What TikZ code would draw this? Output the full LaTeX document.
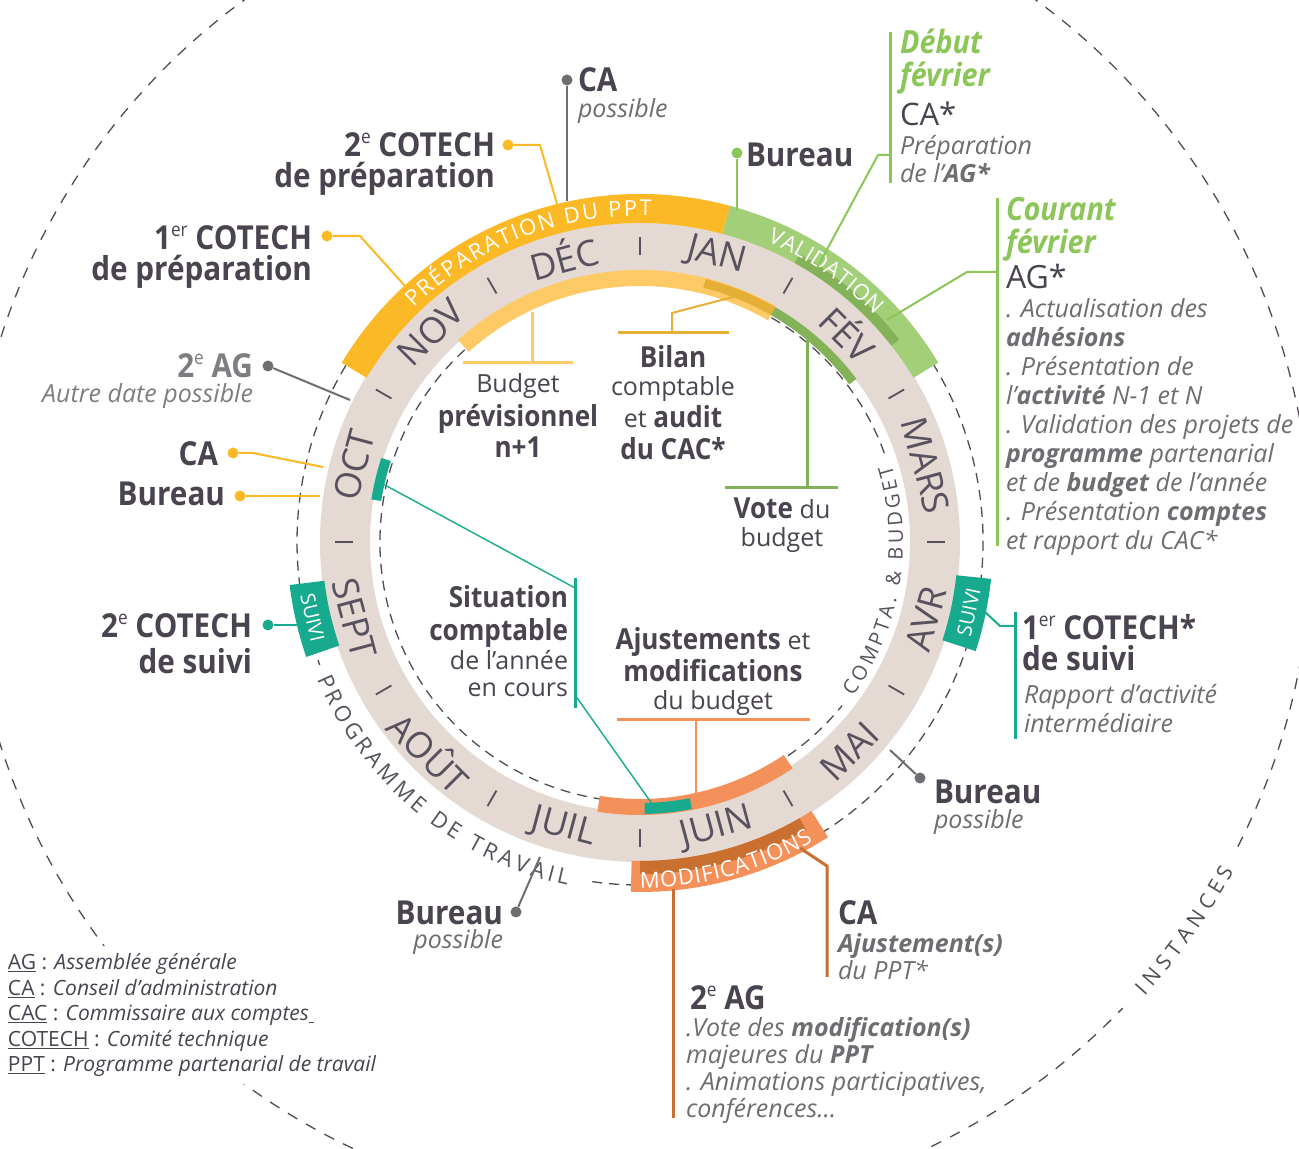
\documentclass[tikz,border=0pt]{standalone}
\usepackage{fontspec}
\usepackage{graphicx}
\setmainfont{Open Sans}
\newfontfamily\bff{Open Sans}[FakeStretch=0.9]
\usetikzlibrary{decorations.text}
\definecolor{txt}{RGB}{74,67,80}
\definecolor{mtxt}{RGB}{88,81,94}
\definecolor{gry}{RGB}{109,110,113}
\definecolor{lgry}{RGB}{125,126,130}
\definecolor{ringc}{RGB}{229,218,211}
\definecolor{yel}{RGB}{251,185,37}
\definecolor{yell}{RGB}{253,202,102}
\definecolor{gold}{RGB}{228,175,52}
\definecolor{grn}{RGB}{163,207,120}
\definecolor{grnd}{RGB}{132,178,88}
\definecolor{grnt}{RGB}{141,198,88}
\definecolor{ora}{RGB}{244,145,90}
\definecolor{orad}{RGB}{201,112,48}
\definecolor{tl}{RGB}{23,170,143}
\definecolor{dsh}{RGB}{80,75,85}
\newcommand\BL[2]{\vtop{\baselineskip=#1\lineskiplimit=-\maxdimen\lineskip=0pt\halign{##\hfil\cr#2\crcr}}}
\newcommand\BR[2]{\vtop{\baselineskip=#1\lineskiplimit=-\maxdimen\lineskip=0pt\halign{\hfil##\cr#2\crcr}}}
\newcommand\BC[2]{\vtop{\baselineskip=#1\lineskiplimit=-\maxdimen\lineskip=0pt\halign{\hfil##\hfil\cr#2\crcr}}}
\newcommand\fB{\bff\bfseries\fontsize{33}{33}\selectfont}
\newcommand\fM{\bff\bfseries\fontsize{29}{29}\selectfont}
\newcommand\fR{\normalfont\fontsize{25}{25}\selectfont}
\newcommand\fI{\normalfont\itshape\fontsize{25}{25}\selectfont}
\newcommand\fG{\bff\bfseries\itshape\fontsize{32}{32}\selectfont}
\newcommand\up[1]{\raisebox{0.42em}{\scalebox{0.58}{\mdseries #1}}}
\newcommand\band[5]{\fill[#1] (#2:#4) arc[start angle=#2,end angle=#3,radius=#4] -- (#3:#5) arc[start angle=#3,end angle=#2,radius=#5] -- cycle;}
\tikzset{
  lbl/.style={inner sep=0pt, outer sep=0pt, text=txt},
  cn/.style={line width=2pt, line join=round},
  barl/.style={line width=3pt},
  dotc/.style={circle, fill=#1, inner sep=0pt, minimum size=11pt},
  dashc/.style={dsh, line width=1.3pt, dash pattern=on 10pt off 7pt},
  mon/.style={inner sep=0pt, text=mtxt, font=\fontsize{36}{36}\selectfont},
  sepm/.style={mtxt, line width=1.8pt},
  suivi/.style={inner sep=0pt, text=white, font=\fontsize{20}{20}\selectfont},
}
\begin{document}
\begin{tikzpicture}[x=1pt,y=1pt]
\useasboundingbox (0,0) rectangle (1299,1149);
\fill[white] (0,0) rectangle (1299,1149);
% big dashed circle INSTANCES
\begin{scope}
\clip (0,0) rectangle (1299,1149);
\begin{scope}[shift={(640,607)}]
\draw[dashc, dash pattern=on 11pt off 10pt] (-27:671) arc[start angle=-27,end angle=316,radius=671];
\path[decorate, decoration={text along path, text color=dsh, text align=fit to path,
  text={|\fontsize{21}{21}\selectfont|INSTANCES}}] (-42:679) arc[start angle=-42,end angle=-29,radius=679];
\end{scope}
\end{scope}
\fill[white] (0,1149-946) rectangle (388,1149-1084);
\begin{scope}[shift={(640,607)}]
\draw[dashc] (-98:343) arc[start angle=-98,end angle=201,radius=343];
\draw[dashc] (20:260) arc[start angle=20,end angle=321,radius=260];
\fill[ringc, even odd rule] (0,0) circle[radius=320] (0,0) circle[radius=270];
% outer bands
\band{yel}{75}{149}{319}{348}
\band{grn}{31}{75}{319}{348}
\band{grnd}{38}{61}{319}{329}
\band{ora}{268.5}{302.5}{319}{350}
\band{orad}{270}{300}{319}{332}
\band{tl}{187}{199}{318}{353}
\band{tl}{342}{354}{318}{353}
% inner bands
\band{yell}{60}{132}{256}{272}
\band{gold}{60}{76}{262}{271}
\band{grnd}{37}{60}{262}{271}
\band{ora}{261}{304}{257}{273}
\band{tl}{162}{171}{262}{272}
\band{tl}{271}{281}{261}{272}
% months
\foreach \a/\m/\r in {75/JAN/-15, 45/FÉV/-45, 15/MARS/-75, 345/AVR/75, 315/MAI/45, 285/JUIN/15, 255/JUIL/-15, 225/AOÛT/-45, 195/SEPT/-75, 165/OCT/75, 135/NOV/45, 105/DÉC/15}
  \node[mon, rotate=\r] (m\a) at (\a:296) {\m};
\foreach \a in {0,30,...,330}
  \draw[sepm] (\a:287) -- (\a:305);
% band texts
\path[decorate, decoration={text along path, text color=white, text align=fit to path,
  text={|\fontsize{22}{22}\selectfont|PRÉPARATION DU PPT}}] (134:326) arc[start angle=134,end angle=88,radius=326];
\path[decorate, decoration={text along path, text color=white, text align=fit to path,
  text={|\fontsize{22}{22}\selectfont|VALIDATION}}] (67:326) arc[start angle=67,end angle=44,radius=326];
\path[decorate, decoration={text along path, text color=white, text align=fit to path,
  text={|\fontsize{22}{22}\selectfont|MODIFICATIONS}}] (270:346) arc[start angle=270,end angle=300,radius=346];
\path[decorate, decoration={text along path, text color=mtxt, text align=fit to path,
  text={|\fontsize{22}{22}\selectfont|PROGRAMME DE TRAVAIL}}] (203:351) arc[start angle=203,end angle=258,radius=351];
\path[decorate, decoration={text along path, text color=mtxt, text align=fit to path,
  text={|\fontsize{20}{20}\selectfont|COMPTA. {\&} BUDGET}}] (-36:263) arc[start angle=-36,end angle=17,radius=263];
\node[suivi, rotate=-77] (sL) at (193:336) {SUIVI};
\node[suivi, rotate=78] (sR) at (348:336) {SUIVI};
\end{scope}
% ---------- connectors ----------
\node[dotc=gry] (dCA) at (567,1149-80) {};
\coordinate (eCA) at (567,1149-201);
\draw[cn, gry] (dCA) -- (eCA);
\node[dotc=yel] (d2C) at (508,1149-145) {};
\coordinate (k2C) at (540,1149-145);
\coordinate (e2C) at (557,1149-204);
\draw[cn, yel] (d2C) -- (k2C) -- (e2C);
\node[dotc=yel] (d1C) at (327,1149-236) {};
\coordinate (k1C) at (360,1149-236);
\coordinate (e1C) at (405,1149-286);
\draw[cn, yel] (d1C) -- (k1C) -- (e1C);
\node[dotc=grnt] (dBT) at (737,1149-153) {};
\coordinate (eBT) at (737,1149-211);
\draw[cn, grnt] (dBT) -- (eBT);
\coordinate (bDa) at (890,1149-32);
\coordinate (bDb) at (890,1149-183);
\coordinate (bDm) at (890,1149-155);
\coordinate (kD) at (878,1149-155);
\coordinate (eD) at (817,1149-268);
\draw[barl, grnt] (bDa) -- (bDb);
\draw[cn, grnt] (bDm) -- (kD) -- (eD);
\coordinate (bCa) at (997,1149-198);
\coordinate (bCb) at (997,1149-546);
\coordinate (bCm) at (997,1149-272);
\coordinate (kC) at (967,1149-272);
\coordinate (eC) at (887,1149-320);
\draw[barl, grnt] (bCa) -- (bCb);
\draw[cn, grnt] (bCm) -- (kC) -- (eC);
\node[dotc=gry] (d2A) at (268,1149-366) {};
\coordinate (e2A) at (350,1149-400);
\draw[cn, gry] (d2A) -- (e2A);
\node[dotc=yel] (dCAl) at (233,1149-453) {};
\coordinate (kCAl) at (253,1149-453);
\coordinate (eCAl) at (323,1149-467);
\draw[cn, yel] (dCAl) -- (kCAl) -- (eCAl);
\node[dotc=yel] (dBl) at (240,1149-496) {};
\coordinate (eBl) at (320,1149-496);
\draw[cn, yel] (dBl) -- (eBl);
\node[dotc=tl] (dCs) at (268,1149-625) {};
\coordinate (eCs) at (297,1149-625);
\draw[cn, tl] (dCs) -- (eCs);
\coordinate (sRe) at (985,1149-612);
\coordinate (kRs) at (1000,1149-626);
\coordinate (bRm) at (1015,1149-626);
\coordinate (bRa) at (1015,1149-612);
\coordinate (bRb) at (1015,1149-739);
\draw[barl, tl] (bRa) -- (bRb);
\draw[cn, tl] (sRe) -- (kRs) -- (bRm);
\node[dotc=gry] (dBR) at (920,1149-778) {};
\coordinate (eBR) at (890,1149-750);
\draw[cn, gry] (dBR) -- (eBR);
\node[dotc=gry] (dBB) at (516,1149-912) {};
\coordinate (eBB) at (540,1149-857);
\draw[cn, gry] (dBB) -- (eBB);
\coordinate (sCA) at (800,1149-848);
\coordinate (kCA) at (827,1149-866);
\coordinate (eCAb) at (827,1149-977);
\draw[barl, orad] (sCA) -- (kCA) -- (eCAb);
\coordinate (sAG) at (673,1149-889);
\coordinate (eAG) at (673,1149-1118);
\draw[barl, orad] (sAG) -- (eAG);
% inner connectors
\coordinate (bu1) at (532,1149-312);
\coordinate (bu2) at (532,1149-363);
\coordinate (bu3) at (463,1149-363);
\coordinate (bu4) at (573,1149-363);
\draw[barl, yell] (bu1) -- (bu2);
\draw[barl, yell] (bu3) -- (bu4);
\coordinate (bi1) at (733,1149-297);
\coordinate (bi2) at (672,1149-313);
\coordinate (bi3) at (672,1149-333);
\coordinate (bi4) at (618,1149-333);
\coordinate (bi5) at (729,1149-333);
\draw[cn, gold] (bi1) -- (bi2) -- (bi3);
\draw[barl, gold] (bi4) -- (bi5);
\coordinate (vo1) at (807,1149-340);
\coordinate (vo2) at (807,1149-488);
\coordinate (vo3) at (725,1149-488);
\coordinate (vo4) at (838,1149-488);
\draw[barl, grnd] (vo1) -- (vo2);
\draw[barl, grnd] (vo3) -- (vo4);
\coordinate (si1) at (383,1149-484);
\coordinate (si2) at (575,1149-588);
\coordinate (si3) at (575,1149-578);
\coordinate (si4) at (575,1149-708);
\coordinate (si5) at (575,1149-695);
\coordinate (si6) at (655,1149-808);
\draw[line width=1.4pt, tl] (si1) -- (si2);
\draw[line width=1.4pt, tl] (si5) -- (si6);
\draw[barl, tl] (si3) -- (si4);
\coordinate (aj1) at (696,1149-793);
\coordinate (aj2) at (696,1149-720);
\coordinate (aj3) at (617,1149-720);
\coordinate (aj4) at (810,1149-720);
\draw[cn, ora] (aj1) -- (aj2);
\draw[barl, ora] (aj3) -- (aj4);
% ---------- labels ----------
\node[lbl, font=\fB, anchor=base west] (tCA) at (578,1149-92) {CA};
\node[lbl, font=\fI, text=gry, anchor=base west] (tCAp) at (578,1149-118) {possible};
\node[lbl, font=\fB, anchor=base east] (t2C) at (495,1149-157) {\BR{31pt}{2\up{e} COTECH\cr de préparation}};
\node[lbl, font=\fB, anchor=base east] (t1C) at (312,1149-250) {\BR{31pt}{1\up{er} COTECH\cr de préparation}};
\node[lbl, font=\fB, anchor=base west] (tBT) at (746,1149-167) {Bureau};
\node[lbl, font=\fG, text=grnt, anchor=base west] (tDeb) at (900,1149-54) {\BL{33pt}{Début\cr février}};
\node[lbl, font=\normalfont\fontsize{31}{31}\selectfont, anchor=base west] (tDCA) at (900,1149-126) {CA*};
\node[lbl, font=\fI, text=gry, anchor=base west] (tDP) at (900,1149-155) {\BL{28pt}{Préparation\cr de l’{\bfseries AG*}}};
\node[lbl, font=\fG, text=grnt, anchor=base west] (tCo) at (1006,1149-221) {\BL{33pt}{Courant\cr février}};
\node[lbl, font=\normalfont\fontsize{32}{32}\selectfont, anchor=base west] (tAG) at (1006,1149-289) {AG*};
\node[lbl, font=\fI, text=gry, anchor=base west] (tAGl) at (1006,1149-318) {\BL{28.9pt}{. Actualisation des\cr {\bfseries adhésions}\cr . Présentation de\cr l’{\bfseries activité} N-1 et N\cr . Validation des projets de\cr {\bfseries programme} partenarial\cr et de {\bfseries budget} de l’année\cr . Présentation {\bfseries comptes}\cr et rapport du CAC*}};
\node[lbl, font=\fB, text=lgry, anchor=base east] (t2A) at (253,1149-378) {2\up{e} AG};
\node[lbl, font=\fI, text=lgry, anchor=base east] (t2Ap) at (253,1149-403) {Autre date possible};
\node[lbl, font=\fB, anchor=base east] (tCAl) at (218,1149-466) {CA};
\node[lbl, font=\fB, anchor=base east] (tBl) at (225,1149-506) {Bureau};
\node[lbl, font=\fB, anchor=base east] (tCs) at (252,1149-638) {\BR{36pt}{2\up{e} COTECH\cr de suivi}};
\node[lbl, font=\fB, anchor=base west] (t1Cs) at (1022,1149-640) {\BL{31pt}{1\up{er} COTECH*\cr de suivi}};
\node[lbl, font=\fI, text=gry, anchor=base west] (t1Cr) at (1024,1149-704) {\BL{29pt}{Rapport d’activité\cr intermédiaire}};
\node[lbl, font=\fB, anchor=base west] (tBR) at (934,1149-804) {Bureau};
\node[lbl, font=\fI, text=gry, anchor=base west] (tBRp) at (934,1149-829) {possible};
\node[lbl, font=\fB, anchor=base east] (tBB) at (503,1149-925) {Bureau};
\node[lbl, font=\fI, text=gry, anchor=base east] (tBBp) at (503,1149-949) {possible};
\node[lbl, font=\fB, anchor=base west] (tCAa) at (838,1149-925) {CA};
\node[lbl, font=\fI, text=gry, anchor=base west] (tCAj) at (838,1149-953) {\BL{27pt}{{\bfseries Ajustement(s)}\cr du PPT*}};
\node[lbl, font=\fB, anchor=base west] (t2Ab) at (690,1149-1010) {2\up{e} AG};
\node[lbl, font=\fI, text=gry, anchor=base west] (t2Al) at (686,1149-1037) {\BL{27pt}{.Vote des {\bfseries modification(s)}\cr majeures du {\bfseries PPT}\cr . Animations participatives,\cr conférences…}};
\node[lbl, font=\normalfont\fontsize{21}{21}\selectfont, anchor=base west] (leg) at (8,1149-970) {\BL{25.5pt}{\underline{AG} : {\itshape Assemblée générale}\cr \underline{CA} : {\itshape Conseil d’administration}\cr \underline{CAC} : {\itshape Commissaire aux comptes\underline{\hspace{5pt}}}\cr \underline{COTECH} : {\itshape Comité technique}\cr \underline{PPT} : {\itshape Programme partenarial de travail}}};
% inner labels
\node[lbl, font=\fR, anchor=base] (tBu) at (518,1149-393) {Budget};
\node[lbl, font=\fM, anchor=base] (tBu2) at (518,1149-427) {\BC{31pt}{prévisionnel\cr n+1}};
\node[lbl, font=\fM, anchor=base] (tBi) at (673,1149-368) {Bilan};
\node[lbl, font=\fR, anchor=base] (tBi2) at (673,1149-396) {comptable};
\node[lbl, font=\fM, anchor=base] (tBi3) at (673,1149-428) {\BC{32pt}{{\fR et} audit\cr du CAC*}};
\node[lbl, font=\fM, anchor=base] (tVo) at (782,1149-519) {\BC{28pt}{Vote {\fR du}\cr {\fR budget}}};
\node[lbl, font=\fM, anchor=base east] (tSi) at (568,1149-608) {\BR{33pt}{Situation\cr comptable}};
\node[lbl, font=\fR, anchor=base east] (tSi2) at (568,1149-670) {\BR{27pt}{de l’année\cr en cours}};
\node[lbl, font=\fM, anchor=base] (tAj) at (713,1149-650) {\BC{32pt}{Ajustements {\fR et}\cr modifications}};
\node[lbl, font=\fR, anchor=base] (tAj2) at (713,1149-710) {du budget};
\end{tikzpicture}
\end{document}
